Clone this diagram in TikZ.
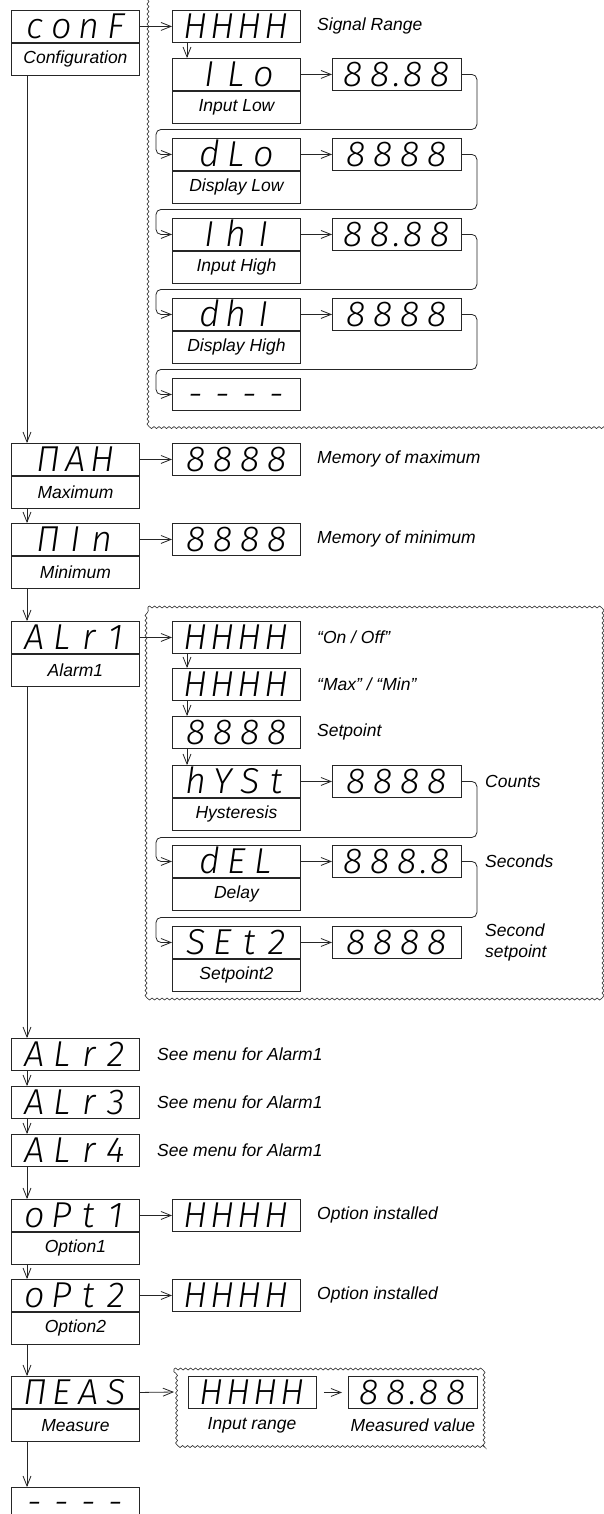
\documentclass[tikz,border=0pt]{standalone}
\usepackage{fontspec}
\setmainfont{Liberation Sans}
\IfFontExistsTF{Fira Sans Light Italic}
  {\newfontfamily\segfam{Fira Sans Light Italic}\newcommand\segsize{36}}
  {\IfFontExistsTF{Lato Light Italic}
    {\newfontfamily\segfam{Lato Light Italic}\newcommand\segsize{35}}
    {\newfontfamily\segfam{Liberation Sans Italic}\newcommand\segsize{34}}}
\usetikzlibrary{arrows.meta,calc,decorations.pathmorphing}
\newlength\segw \setlength\segw{27pt}
\ExplSyntaxOn
\NewDocumentCommand\segdisp{m}{\tl_map_inline:nn{#1}{\str_if_eq:nnTF{##1}{.}{\makebox[6pt]{.}}{\makebox[\segw]{##1}}}}
\ExplSyntaxOff
\newcommand\lblfont{\itshape\fontsize{17.5}{21}\selectfont}
\newcommand\segfont{\segfam\fontsize{\segsize}{40}\selectfont}
\tikzset{
  dispbox/.style={draw=black!85, line width=0.9pt, minimum width=128pt, minimum height=32pt, inner sep=0pt, anchor=north west, font=\segfont, text height=25pt, text depth=0pt},
  labbox/.style={draw=black!85, line width=0.9pt, minimum width=128pt, minimum height=32pt, inner sep=0pt, anchor=north west, font=\lblfont},
  note/.style={anchor=west, font=\lblfont, inner sep=0pt},
  plain/.style={font=\lblfont, inner sep=0pt},
  arr/.style={line width=0.8pt, draw=black!85, -{Straight Barb[length=10pt,width=8pt]}},
  loop/.style={arr, rounded corners=5pt},
  wavy/.style={draw=black!85, line width=0.6pt, decorate, decoration={snake, amplitude=1pt, segment length=5pt}},
}
\begin{document}
\begin{tikzpicture}[x=1pt,y=-1pt]
\useasboundingbox (0,0) rectangle (603,1514);
% wavy groups
\draw[wavy] (148,-20) -- (148,425) -- (625,425) -- (625,-20) -- cycle;
\draw[wavy] (148,607) -- (601,607) -- (601,998) -- (148,998) -- cycle;
\draw[wavy] (174,1369) -- (483,1369) -- (483,1445) -- (174,1445) -- cycle;
\coordinate (measin) at (174,1392);

% main column
\node[dispbox] (conf) at (11,10) {\segdisp{conF}};
\node[labbox] (confl) at (conf.south west) {Configuration};
\node[dispbox] (max) at (11,443) {\segdisp{ΠAH}};
\node[labbox] (maxl) at (max.south west) {Maximum};
\node[dispbox] (min) at (11,523) {\segdisp{ΠIn}};
\node[labbox] (minl) at (min.south west) {Minimum};
\node[dispbox] (alr1) at (11,621) {\segdisp{ALr1}};
\node[labbox] (alr1l) at (alr1.south west) {Alarm1};
\node[dispbox] (alr2) at (11,1038) {\segdisp{ALr2}};
\node[dispbox] (alr3) at (11,1086) {\segdisp{ALr3}};
\node[dispbox] (alr4) at (11,1134) {\segdisp{ALr4}};
\node[dispbox] (opt1) at (11,1199) {\segdisp{oPt1}};
\node[labbox] (opt1l) at (opt1.south west) {Option1};
\node[dispbox] (opt2) at (11,1279) {\segdisp{oPt2}};
\node[labbox] (opt2l) at (opt2.south west) {Option2};
\node[dispbox] (meas) at (11,1376) {\segdisp{ΠEAS}};
\node[labbox] (measl) at (meas.south west) {Measure};
\node[dispbox, text height=22pt] (fin) at (11,1487) {\segdisp{----}};

% configuration submenu
\node[dispbox] (sig) at (172,10) {\segdisp{HHHH}};
\node[note] (sigt) at (317,26) {Signal Range};
\node[dispbox] (ilo) at (172,58) {\segdisp{ILo}};
\node[labbox] (ilol) at (ilo.south west) {Input Low};
\node[dispbox, minimum width=129pt] (ilov) at (332,58) {\segdisp{88.88}};
\node[dispbox] (dlo) at (172,138) {\segdisp{dLo}};
\node[labbox] (dlol) at (dlo.south west) {Display Low};
\node[dispbox, minimum width=129pt] (dlov) at (332,138) {\segdisp{8888}};
\node[dispbox] (ihi) at (172,218) {\segdisp{IhI}};
\node[labbox] (ihil) at (ihi.south west) {Input High};
\node[dispbox, minimum width=129pt] (ihiv) at (332,218) {\segdisp{88.88}};
\node[dispbox] (dhi) at (172,298) {\segdisp{dhI}};
\node[labbox] (dhil) at (dhi.south west) {Display High};
\node[dispbox, minimum width=129pt] (dhiv) at (332,298) {\segdisp{8888}};
\node[dispbox] (dash) at (172,378) {\segdisp{----}};

% max / min values
\node[dispbox] (maxv) at (172,443) {\segdisp{8888}};
\node[note] (maxt) at (317,459) {Memory of maximum};
\node[dispbox] (minv) at (172,523) {\segdisp{8888}};
\node[note] (mint) at (317,539) {Memory of minimum};

% alarm submenu
\node[dispbox] (a1) at (172,621) {\segdisp{HHHH}};
\node[note] (a1t) at (317,637) {“On / Off”};
\node[dispbox] (a2) at (172,668) {\segdisp{HHHH}};
\node[note] (a2t) at (317,684) {“Max” / “Min”};
\node[dispbox] (a3) at (172,716) {\segdisp{8888}};
\node[note] (a3t) at (317,732) {Setpoint};
\node[dispbox] (hys) at (172,765) {\segdisp{hYSt}};
\node[labbox] (hysl) at (hys.south west) {Hysteresis};
\node[dispbox, minimum width=129pt] (hysv) at (332,765) {\segdisp{8888}};
\node[note] (hyst) at (485,781) {Counts};
\node[dispbox] (del) at (172,845) {\segdisp{dEL}};
\node[labbox] (dell) at (del.south west) {Delay};
\node[dispbox, minimum width=129pt] (delv) at (332,845) {\segdisp{888.8}};
\node[note] (delt) at (485,861) {Seconds};
\node[dispbox] (set) at (172,926) {\segdisp{SEt2}};
\node[labbox] (setl) at (set.south west) {Setpoint2};
\node[dispbox, minimum width=129pt] (setv) at (332,926) {\segdisp{8888}};
\node[note, align=left] (sett) at (485,942) {Second\\setpoint};

% alarm 2-4 notes
\node[note] (n2) at (157,1054) {See menu for Alarm1};
\node[note] (n3) at (157,1102) {See menu for Alarm1};
\node[note] (n4) at (157,1150) {See menu for Alarm1};

% options
\node[dispbox] (o1v) at (172,1199) {\segdisp{HHHH}};
\node[note] (o1t) at (317,1215) {Option installed};
\node[dispbox] (o2v) at (172,1279) {\segdisp{HHHH}};
\node[note] (o2t) at (317,1295) {Option installed};

% measure group
\node[dispbox] (mi) at (188,1376) {\segdisp{HHHH}};
\node[plain] (mit) at (252,1425) {Input range};
\node[dispbox, minimum width=129pt] (mv) at (348,1376) {\segdisp{88.88}};
\node[plain] (mvt) at (413,1425) {Measured value};

% main column connectors
\draw[arr] ([xshift=16pt]confl.south west) -- ([xshift=16pt]max.north west);
\draw[arr] ([xshift=16pt]maxl.south west) -- ([xshift=16pt]min.north west);
\draw[arr] ([xshift=16pt]minl.south west) -- ([xshift=16pt]alr1.north west);
\draw[arr] ([xshift=16pt]alr1l.south west) -- ([xshift=16pt]alr2.north west);
\draw[arr] ([xshift=16pt]alr2.south west) -- ([xshift=16pt]alr3.north west);
\draw[arr] ([xshift=16pt]alr3.south west) -- ([xshift=16pt]alr4.north west);
\draw[arr] ([xshift=16pt]alr4.south west) -- ([xshift=16pt]opt1.north west);
\draw[arr] ([xshift=16pt]opt1l.south west) -- ([xshift=16pt]opt2.north west);
\draw[arr] ([xshift=16pt]opt2l.south west) -- ([xshift=16pt]meas.north west);
\draw[arr] ([xshift=16pt]measl.south west) -- ([xshift=16pt]fin.north west);

% horizontal connectors
\draw[arr] (conf.east) -- (sig.west);
\draw[arr] (ilo.east) -- (ilov.west);
\draw[arr] (dlo.east) -- (dlov.west);
\draw[arr] (ihi.east) -- (ihiv.west);
\draw[arr] (dhi.east) -- (dhiv.west);
\draw[arr] (max.east) -- (maxv.west);
\draw[arr] (min.east) -- (minv.west);
\draw[arr] (alr1.east) -- (a1.west);
\draw[arr] (hys.east) -- (hysv.west);
\draw[arr] (del.east) -- (delv.west);
\draw[arr] (set.east) -- (setv.west);
\draw[arr] (opt1.east) -- (o1v.west);
\draw[arr] (opt2.east) -- (o2v.west);
\draw[arr] (meas.east) -- (measin);
\draw[arr, shorten <=7pt, shorten >=6pt] (mi.east) -- (mv.west);

% sub vertical connectors
\draw[arr] ([xshift=15pt]sig.south west) -- ([xshift=15pt]ilo.north west);
\draw[arr] ([xshift=15pt]a1.south west) -- ([xshift=15pt]a2.north west);
\draw[arr] ([xshift=15pt]a2.south west) -- ([xshift=15pt]a3.north west);
\draw[arr] ([xshift=15pt]a3.south west) -- ([xshift=15pt]hys.north west);

% loops
\draw[loop] (ilov.east) -- ++(15,0) |- ($(dlo.west)+(-16,-25)$) |- (dlo.west);
\draw[loop] (dlov.east) -- ++(15,0) |- ($(ihi.west)+(-16,-25)$) |- (ihi.west);
\draw[loop] (ihiv.east) -- ++(15,0) |- ($(dhi.west)+(-16,-25)$) |- (dhi.west);
\draw[loop] (dhiv.east) -- ++(15,0) |- ($(dash.west)+(-16,-25)$) |- (dash.west);
\draw[loop] (hysv.east) -- ++(15,0) |- ($(del.west)+(-16,-24)$) |- (del.west);
\draw[loop] (delv.east) -- ++(15,0) |- ($(set.west)+(-16,-25)$) |- (set.west);
\end{tikzpicture}
\end{document}
